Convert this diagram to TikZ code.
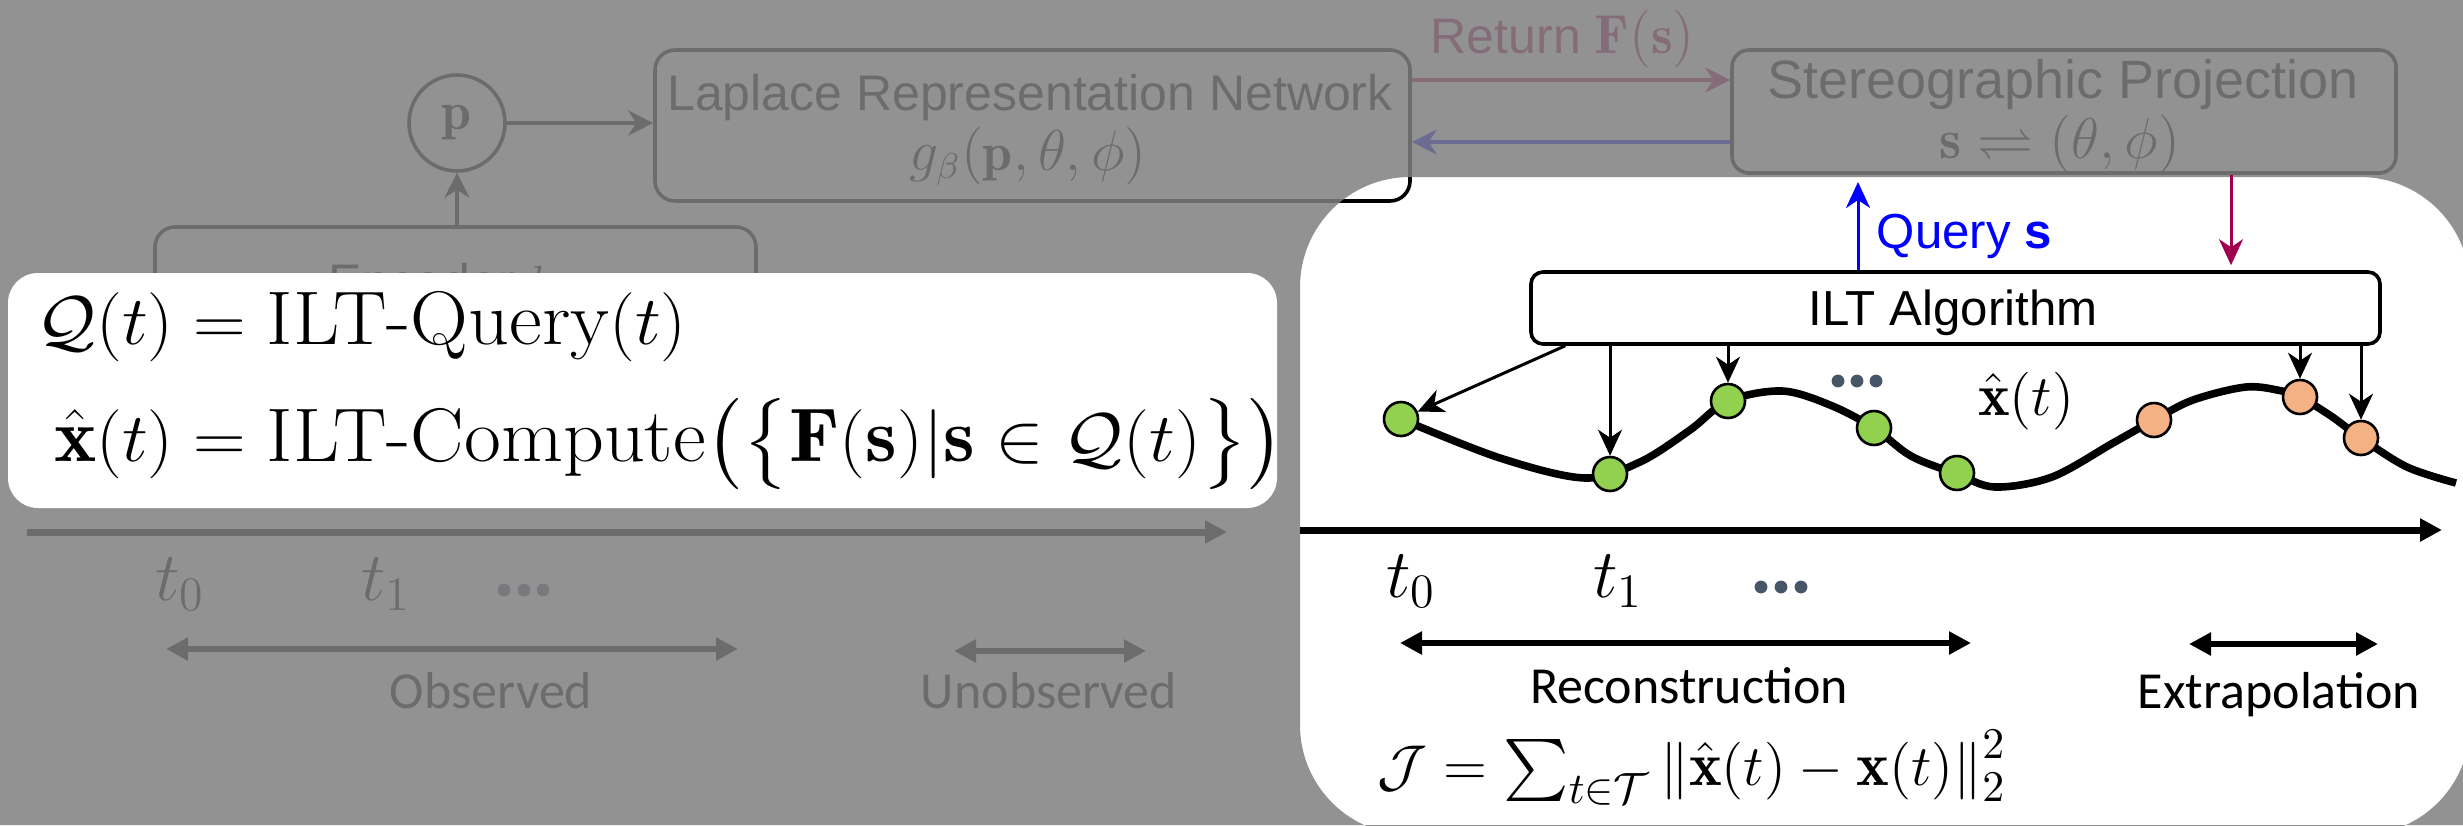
\documentclass[tikz,border=0pt]{standalone}
\usepackage{amsmath,amssymb}
\usepackage{graphicx}
\usepackage{fontspec}
\newfontfamily\arialf{Liberation Sans}
\newfontfamily\calf{Carlito}
\usetikzlibrary{arrows.meta,calc}
\definecolor{mypurple}{RGB}{160,0,80}
\definecolor{ptgreen}{RGB}{146,208,80}
\definecolor{ptorange}{RGB}{244,177,131}
\definecolor{slate}{RGB}{71,85,105}
\begin{document}
\begin{tikzpicture}[x=0.25pt,y=-0.25pt,
  fbox/.style={draw=black, line width=0.9pt, rounded corners=5pt, fill=white, inner sep=0pt},
  txt/.style={inner sep=0pt, anchor=base},
  farrow/.style={line width=0.8pt, -{Stealth[length=6.25pt,width=6.25pt,inset=2pt]}},
  thinarrow/.style={line width=0.75pt, -{Stealth[length=6.5pt,width=6pt,inset=2pt]}},
  bigarrow/.style={line width=1.75pt, -{Triangle[length=5.5pt,width=5.5pt]}},
  dbl/.style={line width=1.6pt, {Triangle[length=5.5pt,width=5.5pt]}-{Triangle[length=5.5pt,width=5.5pt]}},
  ptdot/.style={circle, draw=black, line width=0.65pt, minimum size=8.5pt, inner sep=0pt},
  ell/.style={circle, fill=slate, minimum size=3.2pt, inner sep=0pt},
  sanslab/.style={font=\arialf\fontsize{12.5}{15}\selectfont},
  callab/.style={font=\calf\fontsize{13}{15}\selectfont}]
\useasboundingbox (0,0) rectangle (2463,825);
\clip (0,0) rectangle (2463,825);
\fill[white] (0,0) rectangle (2463,825);

% ---------- faded layer (original colours, dimmed later) ----------
\node[fbox, minimum width=188.75pt, minimum height=37.75pt] (lrn) at (1032.5,125.5) {};
\node[txt, sanslab] (lrnA) at (1030,110) {Laplace Representation Network};
\node[txt] (lrnB) at (1028,170) {\fontsize{13.5}{16}\selectfont $g_\beta(\mathbf{p},\theta,\phi)$};

\node[fbox, rounded corners=4.25pt, minimum width=166pt, minimum height=30.75pt] (stereo) at (2064,111.5) {};
\node[txt, font=\arialf\fontsize{13.5}{15}\selectfont] (stA) at (2063,98) {Stereographic Projection};
\node[txt] (stB) at (2060,158) {\fontsize{14}{16}\selectfont $\mathbf{s}\rightleftharpoons(\theta,\phi)$};

\node[fbox, minimum width=150.25pt, minimum height=28.25pt] (enc) at (455.5,283.5) {};
\node[inner sep=0pt, anchor=base west, sanslab] (encA) at (328,299) {Encoder $h_\gamma$};

\node[circle, draw=black, line width=0.9pt, fill=white, minimum size=24pt, inner sep=0pt] (p) at (457,123) {\fontsize{13.5}{16}\selectfont$\mathbf{p}$};

\draw[farrow] (p) -- (p -| lrn.west);
\draw[farrow] (enc.north -| p) -- (p);
\coordinate (retrow) at (0,80);
\coordinate (qrow) at (0,142);
\draw[farrow, mypurple] (lrn.east |- retrow) -- (stereo.west |- retrow);
\node[inner sep=0pt, anchor=base west, text=mypurple, sanslab] (ret) at (1430,53) {Return {\fontsize{13.75}{16}\selectfont$\mathbf{F}(\mathbf{s})$}};
\draw[farrow, blue] (stereo.west |- qrow) -- (lrn.east |- qrow);

\coordinate (lax0) at (27,532);
\coordinate (lax1) at (1227,532);
\draw[bigarrow] (lax0) -- (lax1);
\node[txt] (lt0) at (180,600) {\fontsize{16.5}{19}\selectfont $t_0$};
\node[txt] (lt1) at (386,600) {\fontsize{16.5}{19}\selectfont $t_1$};
\node[ell] (ld1) at (504,590) {};
\node[ell] (ld2) at (524,590) {};
\node[ell] (ld3) at (543,590) {};
\coordinate (obsL) at (166,649);
\coordinate (obsR) at (738,649);
\draw[dbl] (obsL) -- (obsR);
\node[txt, callab] (obs) at (491,708) {Observed};
\coordinate (unoL) at (954,651);
\coordinate (unoR) at (1146,651);
\draw[dbl] (unoL) -- (unoR);
\node[txt, callab] (uno) at (1049,708) {Unobserved};

% ---------- grey veil, with the right panel left clear ----------
\fill[black!50, opacity=0.85, even odd rule] (0,0) rectangle (2463,825)
  [rounded corners=27.5pt] (1300,177) rectangle (2470,835);

% ---------- left white box ----------
\node[fill=white, rounded corners=7.5pt, minimum width=317.25pt, minimum height=58.75pt, inner sep=0pt] (qbox) at (642.5,390.5) {};
\node[inner sep=0pt, anchor=base west] (eqs) at (36,344) {\fontsize{19}{22.8}\selectfont
  \scalebox{1.055}[1]{$\begin{aligned}[t]
   \mathcal{Q}(t) &= \text{ILT-Query}(t)\\[3.5pt]
   \hat{\mathbf{x}}(t) &= \text{ILT-Compute}\bigl(\bigl\{\mathbf{F}(\mathbf{s})|\mathbf{s}\in\mathcal{Q}(t)\bigr\}\bigr)
  \end{aligned}$}};

% ---------- right panel ----------
\node[draw=black, line width=0.9pt, rounded corners=3pt, fill=white, minimum width=212.25pt, minimum height=18pt, inner sep=0pt] (ilt) at (1955.5,308) {};
\node[txt, font=\arialf\fontsize{12.3}{15}\selectfont] (iltA) at (1953,325) {ILT Algorithm};

\coordinate (qtop) at (1858,182);
\draw[thinarrow, blue] (ilt.north -| qtop) -- (qtop);
\node[inner sep=0pt, anchor=base west, text=blue, font=\arialf\fontsize{12.3}{15}\selectfont] (qlab) at (1876,248) {Query \bfseries s};
\coordinate (pcol) at (2231,0);
\draw[thinarrow, mypurple, shorten >=1.25pt] (stereo.south -| pcol) -- (ilt.north -| pcol);

\draw[line width=1.9pt] plot[smooth, tension=0.55] coordinates {
  (1401,419) (1500,458) (1585,478) (1640,462) (1690,430) (1728,401) (1782,391)
  (1830,405) (1874,428) (1911,456) (1957,474) (1995,487) (2052,477) (2113,443)
  (2154,420) (2193,400) (2246,387) (2282,391) (2300,397) (2331,416) (2361,438)
  (2407,467) (2456,483)};

\node[ptdot, fill=ptgreen] (g1) at (1401,419) {};
\node[ptdot, fill=ptgreen] (g2) at (1610,474) {};
\node[ptdot, fill=ptgreen] (g3) at (1728,401) {};
\node[ptdot, fill=ptgreen] (g4) at (1874,428) {};
\node[ptdot, fill=ptgreen] (g5) at (1957,473) {};
\node[ptdot, fill=ptorange] (o1) at (2154,420) {};
\node[ptdot, fill=ptorange] (o2) at (2300,397) {};
\node[ptdot, fill=ptorange] (o3) at (2361,438) {};

\draw[thinarrow] ([xshift=9pt]ilt.south west) -- (g1);
\draw[thinarrow] (ilt.south -| g2) -- (g2);
\draw[thinarrow] (ilt.south -| g3) -- (g3);
\draw[thinarrow] (ilt.south -| o2) -- (o2);
\draw[thinarrow] (ilt.south -| o3) -- (o3);

\node[ell] (ud1) at (1838,381) {};
\node[ell] (ud2) at (1857,381) {};
\node[ell] (ud3) at (1876,381) {};
\node[txt] (xh) at (2026,415) {\fontsize{15}{18}\selectfont $\hat{\mathbf{x}}(t)$};

\coordinate (rax0) at (1300,530);
\coordinate (rax1) at (2442,530);
\draw[bigarrow] (rax0) -- (rax1);
\node[txt] (rt0) at (1411,597) {\fontsize{16.5}{19}\selectfont $t_0$};
\node[txt] (rt1) at (1618,597) {\fontsize{16.5}{19}\selectfont $t_1$};
\node[ell] (rd1) at (1761,587) {};
\node[ell] (rd2) at (1781,587) {};
\node[ell] (rd3) at (1801,587) {};

\coordinate (recL) at (1400,643);
\coordinate (recR) at (1971,643);
\draw[dbl] (recL) -- (recR);
\node[txt, callab] (rec) at (1689,703) {Reconstruction};
\coordinate (extL) at (2189,644);
\coordinate (extR) at (2378,644);
\draw[dbl] (extL) -- (extR);
\node[txt, callab] (ext) at (2279,708) {Extrapolation};

\node[inner sep=0pt, anchor=base west] (jf) at (1377,785) {\fontsize{15.5}{18}\selectfont
  $\mathcal{J}=\sum_{t\in\mathcal{T}}\left\|\hat{\mathbf{x}}(t)-\mathbf{x}(t)\right\|_2^2$};
\end{tikzpicture}
\end{document}
